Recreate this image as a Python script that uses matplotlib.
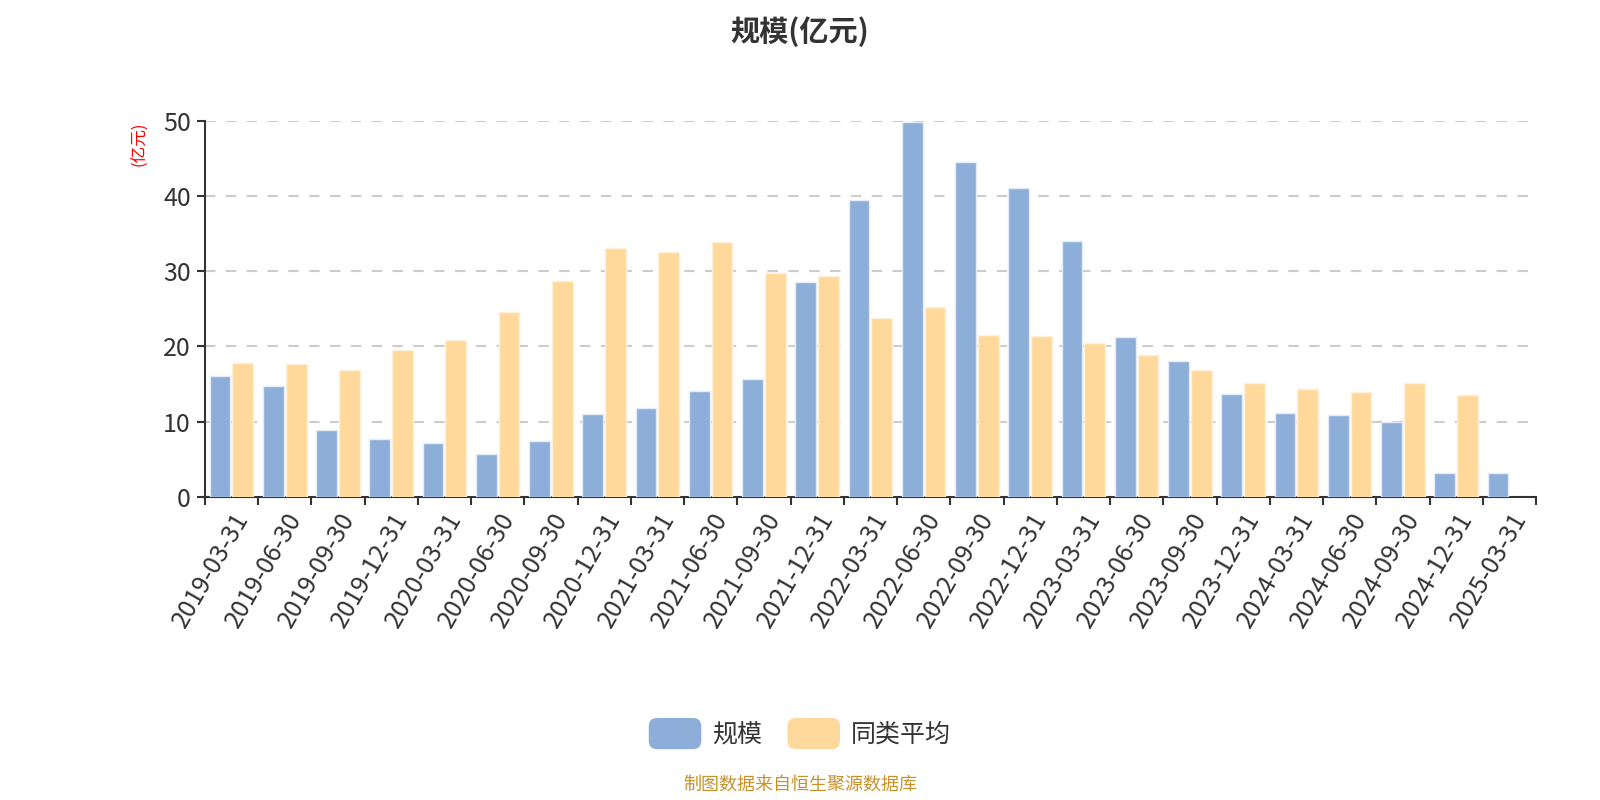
import matplotlib
matplotlib.use("Agg")
import matplotlib.pyplot as plt
import numpy as np
from matplotlib.patches import FancyBboxPatch
from matplotlib.legend_handler import HandlerPatch

plt.rcParams["font.family"] = ["Noto Sans CJK SC", "DejaVu Sans"]

BLUE = "#8EAEDA"
ORANGE = "#FFD99B"
AXIS = "#333333"
TEXT = "#333333"

dates = [
    "2019-03-31", "2019-06-30", "2019-09-30", "2019-12-31",
    "2020-03-31", "2020-06-30", "2020-09-30", "2020-12-31",
    "2021-03-31", "2021-06-30", "2021-09-30", "2021-12-31",
    "2022-03-31", "2022-06-30", "2022-09-30", "2022-12-31",
    "2023-03-31", "2023-06-30", "2023-09-30", "2023-12-31",
    "2024-03-31", "2024-06-30", "2024-09-30", "2024-12-31",
    "2025-03-31",
]
scale = [16.0, 14.8, 8.9, 7.7, 7.1, 5.7, 7.4, 11.0, 11.8, 14.1, 15.6, 28.6,
         39.5, 49.9, 44.5, 41.1, 34.0, 21.2, 18.0, 13.7, 11.1, 10.9, 9.9, 3.2, 3.1]
peer_avg = [17.8, 17.6, 16.9, 19.5, 20.8, 24.6, 28.7, 33.1, 32.5, 33.9, 29.7, 29.4,
            23.8, 25.3, 21.5, 21.4, 20.5, 18.8, 16.8, 15.1, 14.3, 13.9, 15.1, 13.5, np.nan]

fig = plt.figure(figsize=(16, 8), dpi=100)
ax = fig.add_axes([0.128, 0.379, 0.832, 0.470])

x = np.arange(len(dates))
w = 0.39
gap = 0.04
ax.bar(x - (w + gap) / 2, scale, width=w, color=BLUE, edgecolor="#E3EBF7",
       linewidth=1, zorder=3, label="规模")
ax.bar(x + (w + gap) / 2, peer_avg, width=w, color=ORANGE, edgecolor="#FFF1D9",
       linewidth=1, zorder=3, label="同类平均")

ax.set_xlim(-0.5, len(dates) - 0.5)
ax.set_ylim(0, 50)
ax.set_yticks([0, 10, 20, 30, 40, 50])
ax.yaxis.grid(True, color="#CCCCCC", linestyle=(0, (5, 5)), linewidth=1.5, zorder=0)
ax.xaxis.grid(False)

for side in ("top", "right"):
    ax.spines[side].set_visible(False)
for side in ("left", "bottom"):
    ax.spines[side].set_color(AXIS)
    ax.spines[side].set_linewidth(1.5)

ax.set_xticks(x)
ax.set_xticklabels(dates, rotation=60, ha="right", rotation_mode="anchor",
                   fontsize=18, color=TEXT)
ax.tick_params(axis="x", length=0, pad=8)
ax.set_xticks(np.arange(-0.5, len(dates)), minor=True)
ax.tick_params(axis="x", which="minor", length=6, width=1.5, color=AXIS)
ax.tick_params(axis="y", length=6, width=1.5, color=AXIS, labelsize=18,
               labelcolor=TEXT, pad=4)

fig.text(0.0875, 0.82, "(亿元)", rotation=90, color="red", fontsize=12,
         ha="center", va="center")

fig.suptitle("规模(亿元)", y=0.98, fontsize=21, fontweight="bold", color=TEXT)


class RoundHandler(HandlerPatch):
    def create_artists(self, legend, orig_handle, xdescent, ydescent,
                       width, height, fontsize, trans):
        p = FancyBboxPatch((-xdescent, -ydescent - 2), width, height + 4,
                           boxstyle="round,pad=0,rounding_size=6",
                           facecolor=orig_handle.get_facecolor(),
                           edgecolor="none", transform=trans)
        return [p]


handles, labels = ax.get_legend_handles_labels()
handles = [h.patches[0] for h in handles]
leg = fig.legend(handles, labels, loc="center", bbox_to_anchor=(0.5, 0.082),
                 ncol=2, frameon=False, fontsize=18, handlelength=2.1,
                 handleheight=1.2, handletextpad=0.45, columnspacing=1.0,
                 handler_map={h: RoundHandler() for h in handles})
for t in leg.get_texts():
    t.set_color(TEXT)

fig.text(0.5, 0.008, "制图数据来自恒生聚源数据库", ha="center", va="bottom",
         fontsize=13, color="#C8922A")

fig.savefig("out.png", dpi=100, facecolor="white")
